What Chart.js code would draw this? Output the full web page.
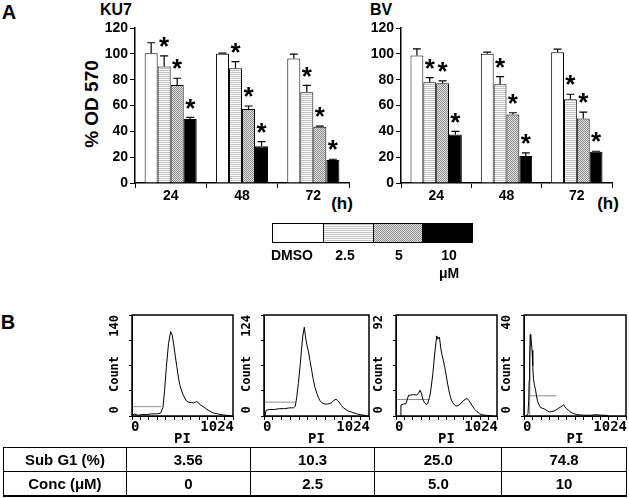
<!DOCTYPE html>
<html>
<head>
<meta charset="utf-8">
<script src="https://cdn.jsdelivr.net/npm/chart.js@4"></script>
<style>
body{margin:0;background:#fff;width:629px;height:498px;position:relative;overflow:hidden;
font-family:"Liberation Sans",Arial,sans-serif;font-weight:bold;color:#000}
canvas{position:absolute}
.t{position:absolute;line-height:1;white-space:nowrap;transform:translate(-50%,-50%)}
.legend{position:absolute;left:272px;top:223px;height:20px;border:1.5px solid #000;display:flex;box-sizing:border-box;width:201px}
.legend div{height:100%;box-sizing:border-box}
table{position:absolute;left:3px;top:447px;width:624px;border-collapse:collapse;font-size:15px}
td{border:1.5px solid #000;height:23px;text-align:center;padding:0}
tr:last-child td{border-bottom:2.5px solid #000}
</style>
</head>
<body>

<div class="t" style="left:9px;top:12px;font-size:20px">A</div>
<div class="t" style="left:116px;top:10px;font-size:16px">KU7</div>
<div class="t" style="left:381px;top:10px;font-size:16px">BV</div>
<div class="t" style="left:91px;top:104px;font-size:19px;transform:translate(-50%,-50%) rotate(-90deg)">% OD 570</div>
<div class="t" style="left:342px;top:203px;font-size:17px">(h)</div>
<div class="t" style="left:608px;top:203px;font-size:17px">(h)</div>

<canvas id="ku7" width="360" height="215" style="left:0;top:0"></canvas>
<canvas id="bv" width="355" height="215" style="left:270px;top:0"></canvas>

<div class="legend" id="legend"></div>
<div id="legendText"></div>

<div class="t" style="left:8px;top:322px;font-size:20px">B</div>

<canvas id="h1" width="149" height="150" style="left:92px;top:300px"></canvas>
<canvas id="h2" width="153" height="150" style="left:224px;top:300px"></canvas>
<canvas id="h3" width="149" height="150" style="left:356px;top:300px"></canvas>
<canvas id="h4" width="150" height="150" style="left:484px;top:300px"></canvas>

<table id="tbl"></table>

<script>

const FONT='"Liberation Sans", Arial, sans-serif'
const MONO='"DejaVu Sans Mono", monospace'

/* PANEL A DATA */

const hours=["24","48","72"]
const doses=["DMSO","2.5","5","10"]

const ku7Dmso=[100.4,100,96.4]
const ku7D25=[90.2,88.9,70.2]
const ku7D5=[75.9,57.3,43.5]
const ku7D10=[49.5,28.5,17.9]

const ku7SdDmso=[8.2,0.6,3.3]
const ku7SdD25=[8.2,5,5.4]
const ku7SdD5=[5.2,2.3,0.5]
const ku7SdD10=[1.3,3.5,0.5]

const bvDmso=[98.7,100,101.3]
const bvD25=[78,76.4,64.8]
const bvD5=[77.2,53.1,50]
const bvD10=[37.6,21,24.1]

const bvSdDmso=[5.2,1.3,2.3]
const bvSdD25=[3.6,6,3.9]
const bvSdD5=[1.8,1.3,4.9]
const bvSdD10=[2.3,2.3,0.5]

const yTicks=[0,20,40,60,80,100,120]

/* PANEL B DATA (PI histograms) */

const h1X=[0,20,60,100,150,200,250,290,314,330,348,370,392,408,422,440,456,470,483,500,517,535,551,575,601,625,652,670,686,710,737,760,787,810,838,870,889,920,956,990,1007]
const h1Y=[0,3,1,2,2,3,3,4,12,35,67,100,117,112,100,82,67,54,44,36,30,25,21,19,18.6,18,20,19,16,14,11.6,9,7,5,3.7,3,2.3,1.5,1,0.5,0]
const h1GateX=[0,297]
const h1GateY=[13,13]

const h2X=[10,20,56,100,150,200,250,286,305,319,335,351,365,377,393,402,410,420,432,448,465,480,497,515,530,545,562,585,611,635,660,680,702,718,735,755,774,800,822,850,871,900,920,945,968,1000]
const h2Y=[0,7,8,8,9,9,10,10,12,23,40,60,80,97,109,100,93,86,80,68,56,45,35,28,23,19,16.5,15,14.5,15,16.5,19,20.6,19,16.5,13,10,8,6,5,4,3,2,1.5,1,0.5]
const h2GateX=[0,302]
const h2GateY=[17,17]

const h3X=[50,50,80,100,128,150,180,211,230,245,260,272,290,306,320,329,340,352,373,396,413,425,440,457,468,480,495,507,520,534,550,564,585,608,630,648,665,681,700,722,740,755,775,799,820,849,880,916,950,983]
const h3Y=[0,10,11,11,19,19,19.5,19,21,23.5,20,15,12,10.7,11,13.8,17,23,38,60,73,70,72,60,55,50.7,44,38,31,24.4,18,13.8,11,9,9.5,10.7,12,13.8,15,16,14,12,9,6,4,2,1,0.6,0.3,0]
const h3GateX=[0,339]
const h3GateY=[15,15]

const h4X=[24,40,47,52,57,62,67,72,81,88,94,105,115,125,135,150,168,190,209,235,259,280,303,325,344,365,384,398,411,428,445,470,495,530,562,600,674,720,781,820,849]
const h4Y=[0,1,6,14,22,28,32.5,30,26,20,15,12,10.6,8,6,4.5,3.3,3,2.7,2,1.6,1.8,2,2.5,3,3.5,4,4.5,3.6,3,2.3,1.5,1,0.6,0.4,0.3,0.3,0.5,0.3,0.3,0]
const h4GateX=[57,57,57,327]
const h4GateY=[0,32,8,8]

const histMax=[140,124,92,40]

/* TABLE DATA */

const subG1=["3.56","10.3","25.0","74.8"]
const conc=["0","2.5","5.0","10"]


/* FILL PATTERNS */

function makeTile(w,h,draw){
const c=document.createElement("canvas")
c.width=w
c.height=h
draw(c.getContext("2d"))
return c
}

const tile25=makeTile(2,2,g=>{
g.fillStyle="#fff"
g.fillRect(0,0,2,2)
g.fillStyle="#c2c2c2"
g.fillRect(0,0,2,1)
})

const tile5=makeTile(2,2,g=>{
g.fillStyle="#e4e4e4"
g.fillRect(0,0,2,2)
g.fillStyle="#8a8a8a"
g.fillRect(0,0,1,1)
g.fillRect(1,1,1,1)
})

const pctx=document.createElement("canvas").getContext("2d")
const fills=["#ffffff",pctx.createPattern(tile25,"repeat"),pctx.createPattern(tile5,"repeat"),"#000000"]
const legendBg=["#fff","url("+tile25.toDataURL()+")","url("+tile5.toDataURL()+")","#000"]


/* ERROR BARS + ASTERISKS */

const errorBars={
id:"errorBars",
afterDatasetsDraw(chart){
const ctx=chart.ctx
const y=chart.scales.y
ctx.save()
ctx.strokeStyle="#000"
ctx.lineWidth=1.2
ctx.fillStyle="#000"
ctx.font="bold 26px "+FONT
ctx.textAlign="center"
ctx.textBaseline="middle"
chart.data.datasets.forEach((ds,i)=>{
chart.getDatasetMeta(i).data.forEach((bar,j)=>{
const top=y.getPixelForValue(ds.data[j]+ds.sd[j])
ctx.beginPath()
ctx.moveTo(bar.x,bar.y)
ctx.lineTo(bar.x,top)
ctx.moveTo(bar.x-4,top)
ctx.lineTo(bar.x+4,top)
ctx.stroke()
if(ds.star){
ctx.fillText("*",bar.x,top-8)
}
})
})
ctx.restore()
}
}


function barChart(id,series,sds,yWidth,padRight){

return new Chart(document.getElementById(id),{

type:"bar",

data:{
labels:hours,
datasets:doses.map((d,i)=>({
label:d,
data:series[i],
sd:sds[i],
star:i>0,
backgroundColor:fills[i],
borderColor:"#000",
borderWidth:1,
categoryPercentage:0.73,
barPercentage:1
}))
},

options:{
responsive:false,
animation:false,
layout:{padding:{top:28,right:padRight,bottom:0,left:0}},
plugins:{legend:{display:false},tooltip:{enabled:false}},
scales:{
x:{
grid:{offset:true,drawOnChartArea:false,color:"#000",tickLength:5},
border:{color:"#000",width:1.5},
ticks:{color:"#000",font:{family:FONT,size:14,weight:"bold"},padding:0},
afterFit:s=>{s.height=32}
},
y:{
min:0,
max:120,
afterBuildTicks:s=>{s.ticks=yTicks.map(v=>({value:v}))},
grid:{drawOnChartArea:false,color:"#000",tickLength:5},
border:{color:"#000",width:1.5},
ticks:{color:"#000",font:{family:FONT,size:14,weight:"bold"},padding:2},
afterFit:s=>{s.width=yWidth}
}
}
},

plugins:[errorBars]

})

}

barChart("ku7",[ku7Dmso,ku7D25,ku7D5,ku7D10],[ku7SdDmso,ku7SdD25,ku7SdD5,ku7SdD10],135,11)
barChart("bv",[bvDmso,bvD25,bvD5,bvD10],[bvSdDmso,bvSdD25,bvSdD5,bvSdD10],131,13)


/* LEGEND */

const legend=document.getElementById("legend")
const segW=[50,50,49,49]
legendBg.forEach((bg,i)=>{
const d=document.createElement("div")
d.style.width=segW[i]+"px"
d.style.background=bg
if(i>0) d.style.borderLeft="1px solid #000"
if(i==3) d.style.flex="1"
legend.appendChild(d)
})

const legendText=document.getElementById("legendText")
const legendPos=[[292,255],[345,255],[399,255],[449,255]]
const legendLabels=doses.concat(["μM"])
legendLabels.forEach((txt,i)=>{
const p=i<4?legendPos[i]:[449,273]
const d=document.createElement("div")
d.className="t"
d.style.left=p[0]+"px"
d.style.top=p[1]+"px"
d.style.fontSize="14px"
d.textContent=txt
legendText.appendChild(d)
})


/* HISTOGRAMS */

const histFrame={
id:"histFrame",
afterDraw(chart,args,opts){
const ctx=chart.ctx
const a=chart.chartArea
ctx.save()
ctx.strokeStyle="#000"
ctx.lineWidth=1.5
ctx.strokeRect(a.left,a.top,a.right-a.left,a.bottom-a.top)
ctx.fillStyle="#000"

ctx.font="bold 14px "+MONO
ctx.textBaseline="middle"
ctx.textAlign="left"
ctx.fillText("0",a.left-1,a.bottom+11)
ctx.textAlign="right"
ctx.fillText("1024",a.right+1,a.bottom+11)
ctx.textAlign="center"
ctx.fillText("PI",(a.left+a.right)/2,a.bottom+23)

ctx.translate(a.left-17,0)
ctx.rotate(-Math.PI/2)
ctx.font="bold 12px "+MONO
ctx.textAlign="right"
ctx.fillText(String(opts.ymax),-a.top,0)
ctx.textAlign="center"
ctx.fillText("0",-(a.bottom-6),0)
ctx.fillText("Count",-(a.top+59),0)
ctx.restore()
}
}

function histChart(id,xs,ys,gx,gy,ymax){

new Chart(document.getElementById(id),{

type:"line",

data:{
datasets:[
{
data:xs.map((x,i)=>({x:x,y:ys[i]})),
borderColor:"#000",
borderWidth:1,
pointRadius:0,
tension:0
},
{
data:gx.map((x,i)=>({x:x,y:gy[i]})),
borderColor:"#8c8c8c",
borderWidth:1,
pointRadius:0,
tension:0
}
]
},

options:{
responsive:false,
animation:false,
layout:{padding:{top:15,right:8,bottom:0,left:0}},
plugins:{legend:{display:false},tooltip:{enabled:false},histFrame:{ymax:ymax}},
scales:{
x:{
type:"linear",
min:0,
max:1024,
ticks:{count:13,autoSkip:false,callback:()=>""},
grid:{drawOnChartArea:false,color:"#000",tickLength:4},
border:{color:"#000"},
afterFit:s=>{s.height=34}
},
y:{
min:0,
max:ymax,
ticks:{count:5,autoSkip:false,callback:()=>""},
grid:{drawOnChartArea:false,color:"#000",tickLength:3},
border:{color:"#000"},
afterFit:s=>{s.width=40}
}
}
},

plugins:[histFrame]

})

}

histChart("h1",h1X,h1Y,h1GateX,h1GateY,histMax[0])
histChart("h2",h2X,h2Y,h2GateX,h2GateY,histMax[1])
histChart("h3",h3X,h3Y,h3GateX,h3GateY,histMax[2])
histChart("h4",h4X,h4Y,h4GateX,h4GateY,histMax[3])


/* TABLE */

const colW=[123,124,125,127,125]
const rows=[["Sub G1 (%)"].concat(subG1),["Conc (μM)"].concat(conc)]
const tbl=document.getElementById("tbl")
rows.forEach(r=>{
const tr=document.createElement("tr")
r.forEach((txt,i)=>{
const td=document.createElement("td")
td.style.width=colW[i]+"px"
td.textContent=txt
tr.appendChild(td)
})
tbl.appendChild(tr)
})

</script>
</body>
</html>
